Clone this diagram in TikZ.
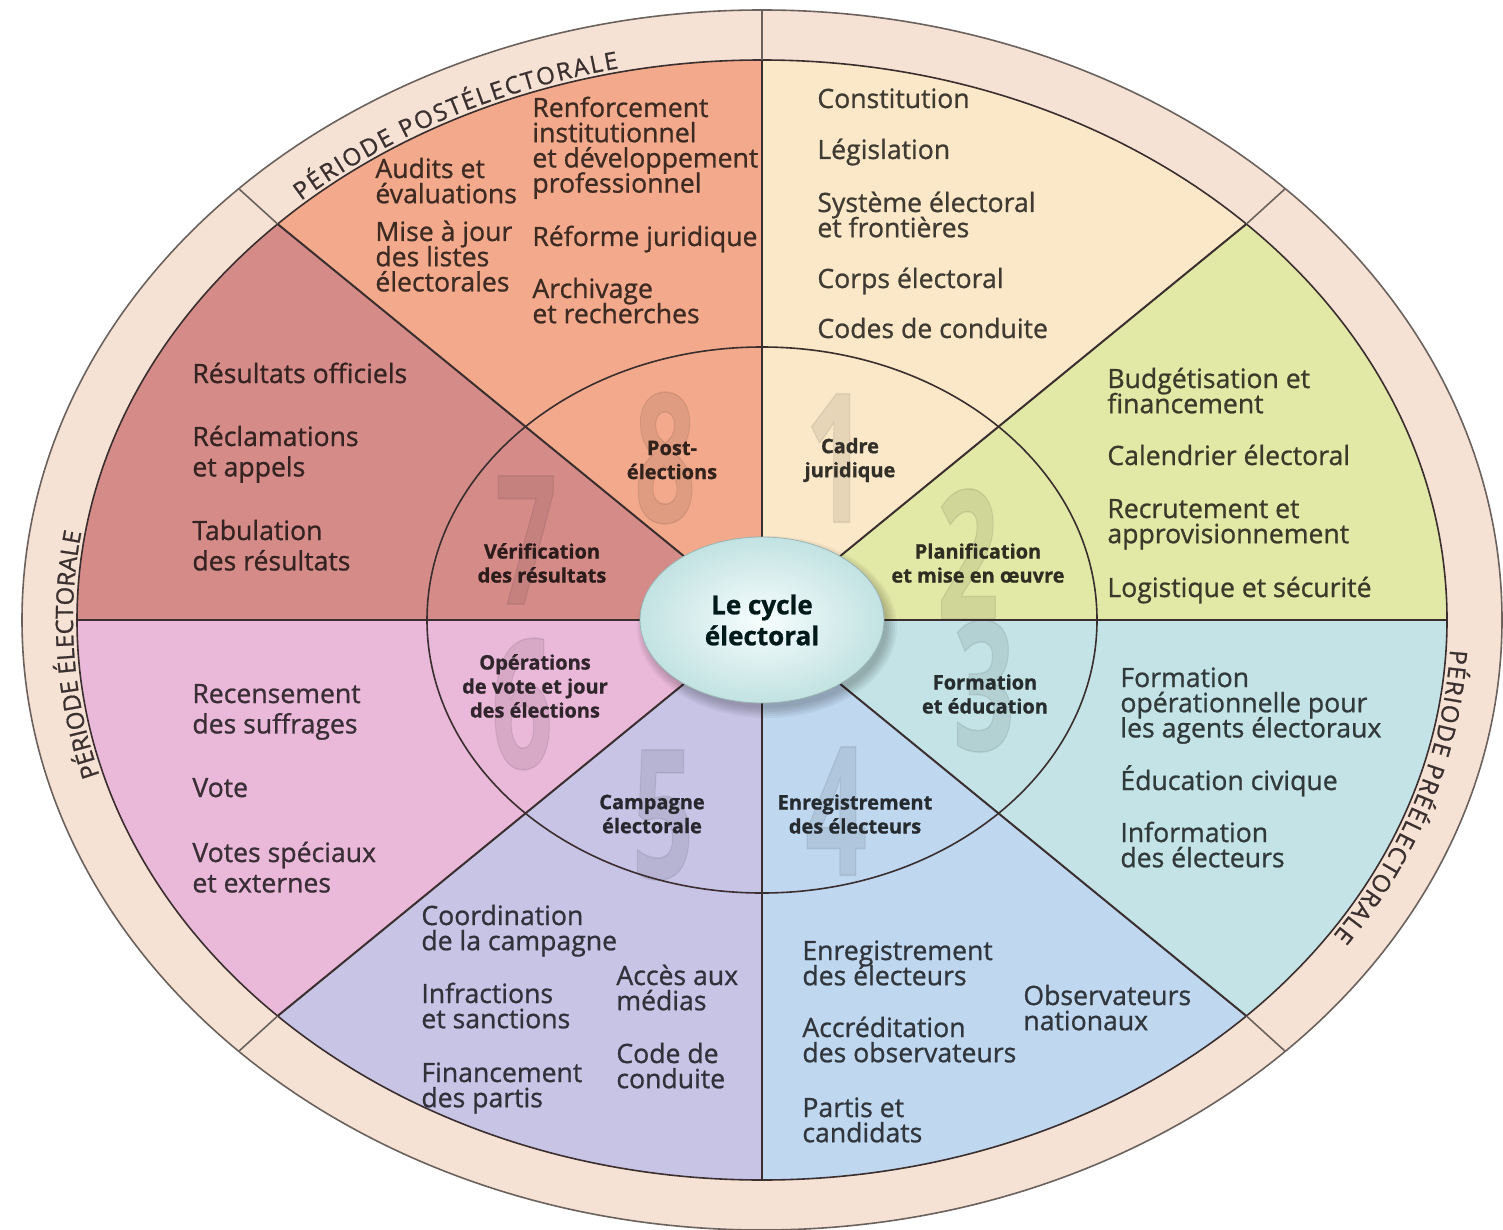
\documentclass[tikz,border=0pt]{standalone}
\usepackage{fontspec}
\setmainfont{Open Sans}[FakeBold=0.9]
\usepackage{graphicx}
\usetikzlibrary{decorations.text,shapes.geometric}
\definecolor{ringc}{HTML}{F6E2D4}
\definecolor{sA}{HTML}{FBE8C8}
\definecolor{sB}{HTML}{E2E8A6}
\definecolor{sC}{HTML}{C3E3E6}
\definecolor{sD}{HTML}{BFD7EF}
\definecolor{sE}{HTML}{C7C4E6}
\definecolor{sF}{HTML}{EAB8D9}
\definecolor{sG}{HTML}{D58C89}
\definecolor{sH}{HTML}{F3AA8C}
\definecolor{linec}{HTML}{3A2E2E}
\definecolor{edgec}{HTML}{6B625E}
\definecolor{cin}{HTML}{F7FDFD}
\definecolor{cout}{HTML}{C2E2E2}
\definecolor{labc}{HTML}{3A3030}
\newcommand\ls[1]{\vtop{\lineskiplimit=-30pt\relax\lineskip=0pt\relax\let\\\cr\halign{##\hfil\cr#1\crcr}}}
\tikzset{
  itm/.style={anchor=base west, inner sep=0pt,
    font=\fontsize{13.3}{12.6}\selectfont, text=#1!25!black},
  itmw/.style={itm=#1, font=\fontsize{13.3}{15.2}\selectfont},
  inlab/.style={align=center, inner sep=0pt, font=\bfseries\fontsize{10}{12}\selectfont, text=#1!20!black},
  bignum/.style={inner sep=0pt, font=\bfseries\fontsize{90}{90}\selectfont, text=black, text opacity=0.08},
  divline/.style={draw=linec, line width=1pt},
  ringline/.style={draw=edgec, line width=0.8pt},
  periode/.style={decorate, decoration={text along path, text align=fit to path, text color=labc, text={|\fontsize{12}{12}\selectfont|#1}}},
}
\begin{document}
\begin{tikzpicture}[x=0.5pt,y=0.5pt]
\useasboundingbox (0,0) rectangle (1503,-1230);
\fill[white] (0,0) rectangle (1503,-1230);
\begin{scope}[shift={(762,-620)}]
  \coordinate (C) at (0,0);
  \filldraw[fill=ringc, draw=edgec, line width=0.8pt] (C) ellipse [x radius=740, y radius=610];
  \foreach \a/\c in {45/sA,0/sB,-45/sC,-90/sD,-135/sE,180/sF,135/sG,90/sH}
    \fill[\c] (\a:685 and 560) arc[start angle=\a, delta angle=45, x radius=685, y radius=560] -- (C) -- cycle;
  \foreach \a in {0,45,...,315} {
    \coordinate (c\a) at (\a:685 and 560);
    \coordinate (o\a) at (\a:740 and 610);
  }
  % ring labels
  \path[periode={PÉRIODE POSTÉLECTORALE}] (132:689 and 564) arc[start angle=132, end angle=102, x radius=689, y radius=564];
  \path[periode={PÉRIODE ÉLECTORALE}] (196:689 and 564) arc[start angle=196, end angle=171, x radius=689, y radius=564];
  \path[periode={PÉRIODE PRÉÉLECTORALE}] (-3:689 and 564) arc[start angle=-3, end angle=-34, x radius=689, y radius=564];
\end{scope}

% big faded numbers
\node[bignum] (n8) at (665,-458) {\scalebox{0.6}[1]{8}};
\node[bignum] (n1) at (836,-458) {\scalebox{0.6}[1]{1}};
\node[bignum] (n2) at (968,-554) {\scalebox{0.6}[1]{2}};
\node[bignum] (n3) at (984,-686) {\scalebox{0.6}[1]{3}};
\node[bignum] (n4) at (836,-811) {\scalebox{0.6}[1]{4}};
\node[bignum] (n5) at (663,-815) {\scalebox{0.6}[1]{5}};
\node[bignum] (n6) at (522,-704) {\scalebox{0.6}[1]{6}};
\node[bignum] (n7) at (526,-540) {\scalebox{0.6}[1]{7}};

\begin{scope}[shift={(762,-620)}]
  \draw[linec, line width=0.8pt] (C) ellipse [x radius=685, y radius=560];
  \draw[linec, line width=0.8pt] (C) ellipse [x radius=335, y radius=273];
  \draw[divline] (c90) -- (c270);
  \draw[divline, line width=1.3pt] (c180) -- (c0);
  \draw[divline] (c135) -- (c315);
  \draw[divline] (c45) -- (c225);
  \draw[ringline] (c90) -- (o90);
  \foreach \a in {45,135,225,315} \draw[ringline] (c\a) -- (o\a);
  % centre
  \foreach \k in {1,...,6}
    \fill[black, opacity=0.045] (5,-7) ellipse [x radius=118+2*\k, y radius=79+2*\k];
  \node[ellipse, minimum width=122pt, minimum height=83pt, inner sep=0pt, shade, shading=radial,
        inner color=cin, outer color=cout, draw=cout!80!black, line width=0.4pt,
        align=center, font=\bfseries\fontsize{13}{15.5}\selectfont, text=black!80!teal] (ctr) at (C)
        {Le cycle\\électoral};
\end{scope}

% inner labels
\node[inlab=sH] (l8) at (672,-460) {Post-\\élections};
\node[inlab=sA] (l1) at (850,-460) {Cadre\\juridique};
\node[inlab=sB] (l2) at (978,-563) {Planification\\et mise en œuvre};
\node[inlab=sC] (l3) at (985,-694) {Formation\\et éducation};
\node[inlab=sD] (l4) at (855,-814) {Enregistrement\\des électeurs};
\node[inlab=sE] (l5) at (652,-814) {Campagne\\électorale};
\node[inlab=sF] (l6) at (535,-686) {Opérations\\de vote et jour\\des élections};
\node[inlab=sG] (l7) at (542,-563) {Vérification\\des résultats};

% sector 1
\node[itm=sA] (a1) at (817,-108) {Constitution};
\node[itm=sA] (a2) at (817,-159) {Législation};
\node[itm=sA] (a3) at (817,-212) {\ls{Système électoral\\et frontières}};
\node[itm=sA] (a4) at (817,-288) {Corps électoral};
\node[itm=sA] (a5) at (817,-338) {Codes de conduite};
% sector 8
\node[itm=sH] (h1) at (375,-178) {\ls{Audits et\\évaluations}};
\node[itm=sH] (h2) at (375,-241) {\ls{Mise à jour\\des listes\\électorales}};
\node[itm=sH] (h3) at (532,-117) {\ls{Renforcement\\institutionnel\\et développement\\professionnel}};
\node[itm=sH] (h4) at (532,-246) {Réforme juridique};
\node[itm=sH] (h5) at (532,-298) {\ls{Archivage\\et recherches}};
% sector 7
\node[itmw=sG] (g1) at (192,-383) {Résultats officiels};
\node[itmw=sG] (g2) at (192,-446) {\ls{Réclamations\\et appels}};
\node[itmw=sG] (g3) at (192,-540) {\ls{Tabulation\\des résultats}};
% sector 6
\node[itmw=sF] (f1) at (192,-703) {\ls{Recensement\\des suffrages}};
\node[itmw=sF] (f2) at (192,-797) {Vote};
\node[itmw=sF] (f3) at (192,-862) {\ls{Votes spéciaux\\et externes}};
% sector 2
\node[itm=sB] (b1) at (1107,-388) {\ls{Budgétisation et\\financement}};
\node[itm=sB] (b2) at (1107,-465) {Calendrier électoral};
\node[itm=sB] (b3) at (1107,-518) {\ls{Recrutement et\\approvisionnement}};
\node[itm=sB] (b4) at (1107,-597) {Logistique et sécurité};
% sector 3
\node[itm=sC] (t1) at (1120,-687) {\ls{Formation\\opérationnelle pour\\les agents électoraux}};
\node[itm=sC] (t2) at (1120,-790) {Éducation civique};
\node[itm=sC] (t3) at (1120,-842) {\ls{Information\\des électeurs}};
% sector 4
\node[itm=sD] (d1) at (802,-960) {\ls{Enregistrement\\des électeurs}};
\node[itm=sD] (d2) at (802,-1037) {\ls{Accréditation\\des observateurs}};
\node[itm=sD] (d3) at (802,-1117) {\ls{Partis et\\candidats}};
\node[itm=sD] (d4) at (1023,-1005) {\ls{Observateurs\\nationaux}};
% sector 5
\node[itm=sE] (e1) at (421,-925) {\ls{Coordination\\de la campagne}};
\node[itm=sE] (e2) at (421,-1003) {\ls{Infractions\\et sanctions}};
\node[itm=sE] (e3) at (421,-1082) {\ls{Financement\\des partis}};
\node[itm=sE] (e4) at (616,-985) {\ls{Accès aux\\médias}};
\node[itm=sE] (e5) at (616,-1063) {\ls{Code de\\conduite}};
\end{tikzpicture}
\end{document}
